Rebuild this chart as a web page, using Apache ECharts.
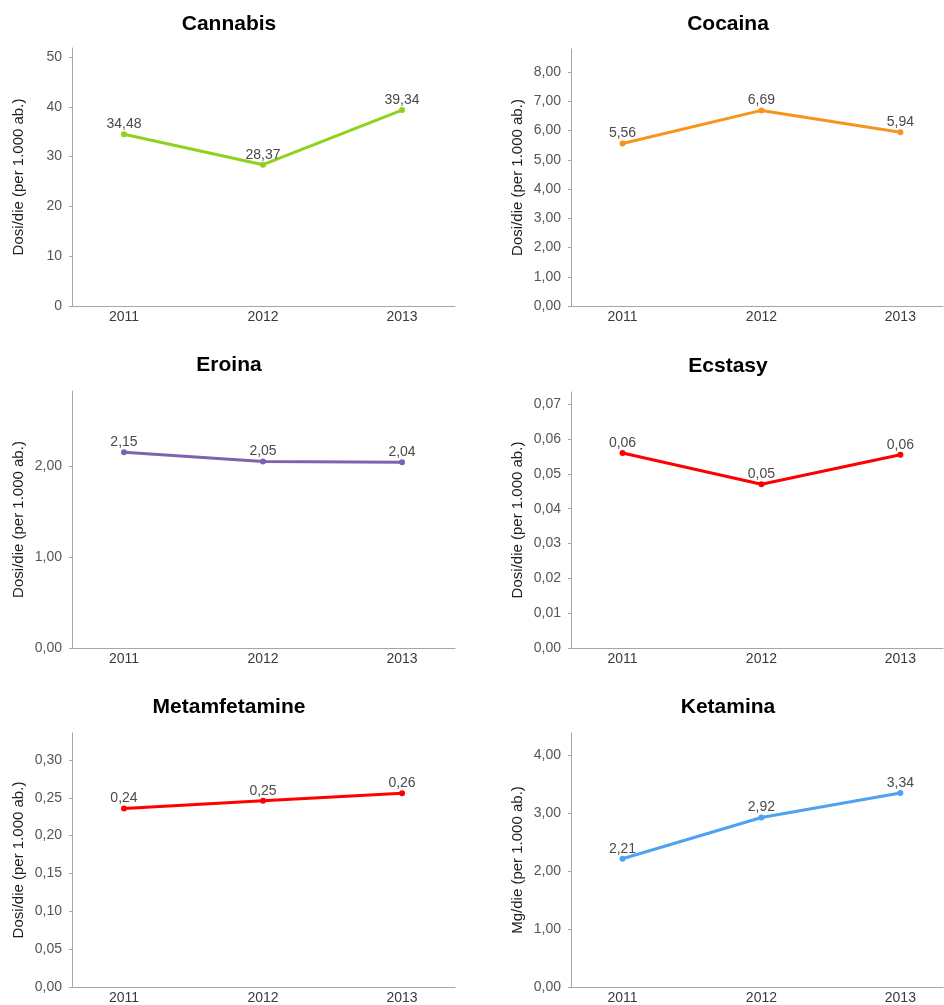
<!DOCTYPE html>
<html>
<head>
<meta charset="utf-8">
<script src="https://cdn.jsdelivr.net/npm/echarts@6/dist/echarts.min.js"></script>
<style>
  html, body { margin: 0; padding: 0; background: #fff; }
  #chart { width: 944px; height: 1005px; }
</style>
</head>
<body>
<div id="chart"></div>
<script>
// Years on the horizontal axis
const years = ['2011', '2012', '2013'];

// Daily doses per 1,000 inhabitants, one array per substance
const cannabis = [34.48, 28.37, 39.34];
const cocaina = [5.56, 6.69, 5.94];
const eroina = [2.15, 2.05, 2.04];
const ecstasy = [0.056, 0.047, 0.0555];
const metamfetamine = [0.236, 0.246, 0.256];
const ketamina = [2.21, 2.92, 3.34];

// Tick values shown on each y axis
const ticksCannabis = [0, 10, 20, 30, 40, 50];
const ticksCocaina = [0, 1, 2, 3, 4, 5, 6, 7, 8];
const ticksEroina = [0, 1, 2];
const ticksEcstasy = [0, 0.01, 0.02, 0.03, 0.04, 0.05, 0.06, 0.07];
const ticksMetamfetamine = [0, 0.05, 0.1, 0.15, 0.2, 0.25, 0.3];
const ticksKetamina = [0, 1, 2, 3, 4];

const FONT = '"Liberation Sans", Arial, sans-serif';

function fmt(v, d) {
  return Number(v).toFixed(d).replace('.', ',');
}

// Panel layout: grid box, axis extents and styling per small chart
const panels = [
  { title: 'Cannabis', tx: 229, ty: 24, data: cannabis, color: '#8fd120', ticks: ticksCannabis, dec: 0,
    yMax: 51.8, interval: 10, name: 'Dosi/die (per 1.000 ab.)',
    grid: { left: 72, top: 48, right: 489, bottom: 699 }, xMin: -0.374, xMax: 2.381 },
  { title: 'Cocaina', tx: 728, ty: 24, data: cocaina, color: '#f7941e', ticks: ticksCocaina, dec: 2,
    yMax: 8.79, interval: 1, name: 'Dosi/die (per 1.000 ab.)',
    grid: { left: 571, top: 49, right: 1, bottom: 699 }, xMin: -0.371, xMax: 2.307 },
  { title: 'Eroina', tx: 229, ty: 365, data: eroina, color: '#7b63ae', ticks: ticksEroina, dec: 2,
    yMax: 2.824, interval: 1, name: 'Dosi/die (per 1.000 ab.)',
    grid: { left: 72, top: 391, right: 489, bottom: 357 }, xMin: -0.374, xMax: 2.381 },
  { title: 'Ecstasy', tx: 728, ty: 366, data: ecstasy, color: '#ff0000', ticks: ticksEcstasy, dec: 2,
    yMax: 0.0735, interval: 0.01, name: 'Dosi/die (per 1.000 ab.)',
    grid: { left: 571, top: 392, right: 1, bottom: 357 }, xMin: -0.371, xMax: 2.307 },
  { title: 'Metamfetamine', tx: 229, ty: 707, data: metamfetamine, color: '#ff0000', ticks: ticksMetamfetamine, dec: 2,
    yMax: 0.3356, interval: 0.05, name: 'Dosi/die (per 1.000 ab.)',
    grid: { left: 72, top: 733, right: 489, bottom: 15 }, xMin: -0.374, xMax: 2.381 },
  { title: 'Ketamina', tx: 728, ty: 707, data: ketamina, color: '#4fa1f2', ticks: ticksKetamina, dec: 2,
    yMax: 4.375, interval: 1, name: 'Mg/die (per 1.000 ab.)',
    grid: { left: 571, top: 733, right: 1, bottom: 15 }, xMin: -0.371, xMax: 2.307 }
];

const axisColor = '#a6a6a6';

const option = {
  backgroundColor: '#ffffff',
  animation: false,
  title: panels.map(p => ({
    text: p.title,
    left: p.tx,
    top: p.ty,
    padding: 0,
    textAlign: 'center',
    textVerticalAlign: 'middle',
    textStyle: { fontFamily: FONT, fontSize: 21, fontWeight: 'bold', color: '#000' }
  })),
  grid: panels.map(p => Object.assign({ containLabel: false }, p.grid)),
  xAxis: panels.map((p, i) => ({
    type: 'value',
    gridIndex: i,
    min: p.xMin,
    max: p.xMax,
    splitLine: { show: false },
    axisLine: { show: true, onZero: false, lineStyle: { color: axisColor, width: 1 } },
    axisTick: { show: false },
    axisLabel: {
      customValues: [0, 1, 2],
      formatter: v => years[Math.round(v)],
      margin: 4,
      fontFamily: FONT,
      fontSize: 14,
      color: '#3a3a3a'
    }
  })),
  yAxis: panels.map((p, i) => ({
    type: 'value',
    gridIndex: i,
    min: 0,
    max: p.yMax,
    interval: p.interval,
    name: p.name,
    nameLocation: 'middle',
    nameRotate: 90,
    nameGap: 46,
    nameTextStyle: { fontFamily: FONT, fontSize: 15, color: '#1e1e1e' },
    splitLine: { show: false },
    axisLine: { show: true, onZero: false, lineStyle: { color: axisColor, width: 1 } },
    axisTick: { show: true, length: 3, customValues: p.ticks, lineStyle: { color: axisColor } },
    axisLabel: {
      customValues: p.ticks,
      formatter: v => fmt(v, p.dec),
      margin: 10,
      fontFamily: FONT,
      fontSize: 14,
      color: '#555555'
    }
  })),
  series: panels.map((p, i) => ({
    type: 'line',
    xAxisIndex: i,
    yAxisIndex: i,
    data: p.data.map((v, k) => [k, v]),
    symbol: 'circle',
    symbolSize: 6,
    lineStyle: { color: p.color, width: 3 },
    itemStyle: { color: p.color },
    label: {
      show: true,
      position: 'top',
      distance: 0,
      formatter: q => fmt(q.value[1], 2),
      fontFamily: FONT,
      fontSize: 14,
      color: '#4a4a4a'
    }
  }))
};

const chart = echarts.init(document.getElementById('chart'), null, { renderer: 'canvas' });
chart.setOption(option);
</script>
</body>
</html>
